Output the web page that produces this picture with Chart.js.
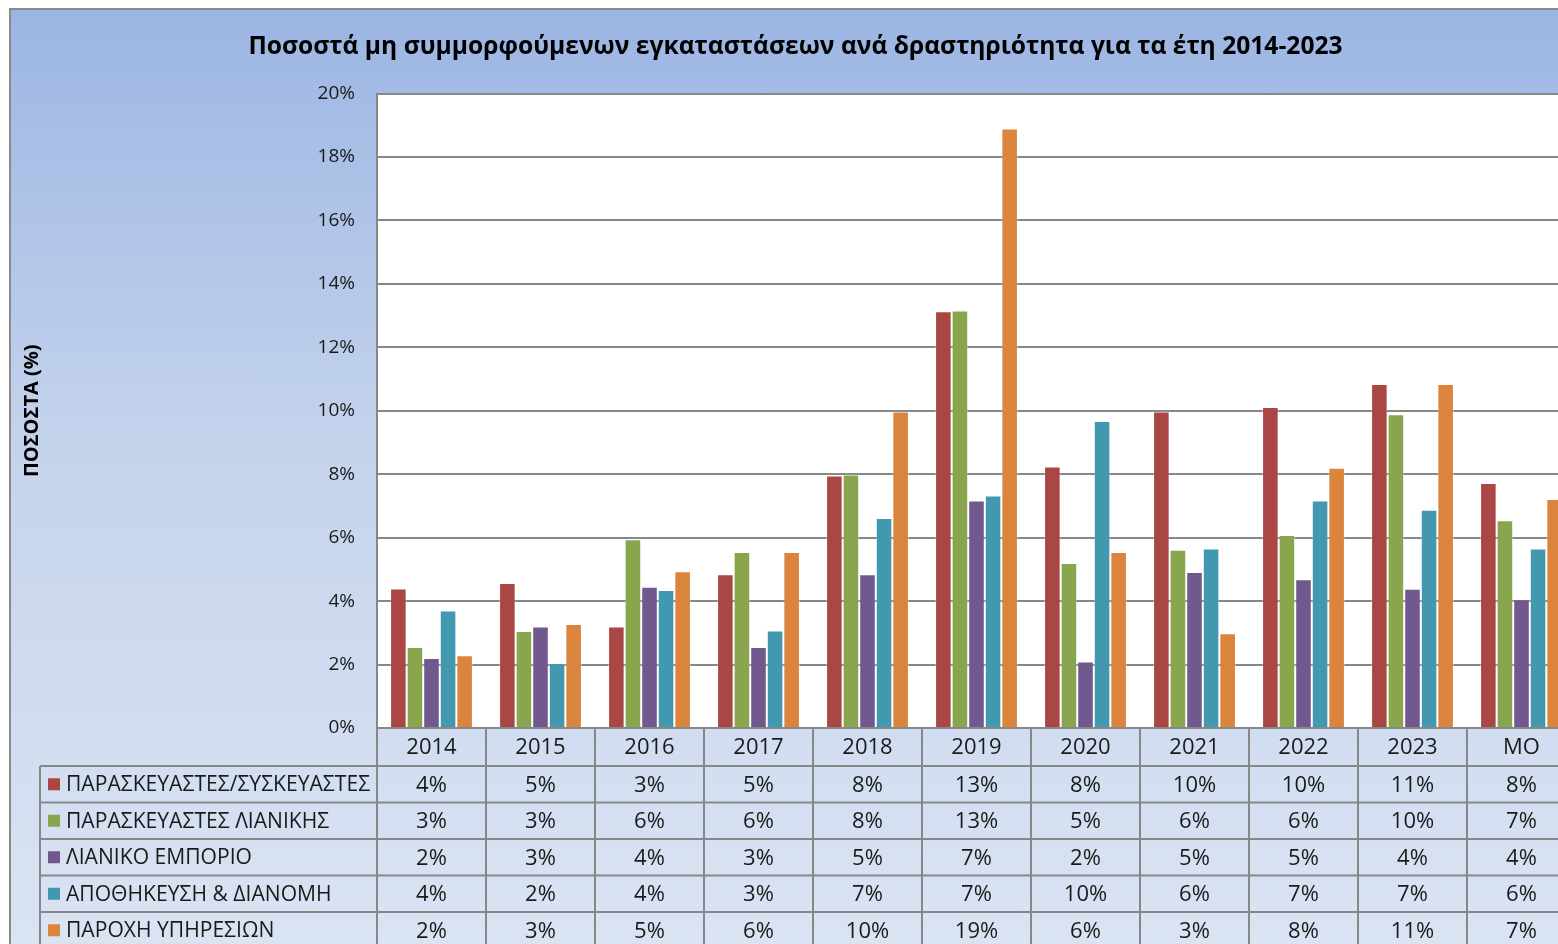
<!DOCTYPE html>
<html>
<head>
<meta charset="utf-8">
<script src="https://cdn.jsdelivr.net/npm/chart.js@4.4.1/dist/chart.umd.min.js"></script>
<style>
html, body { margin: 0; padding: 0; background: #fff; overflow: hidden; }
#wrap {
  position: absolute; left: 9px; top: 8px; width: 1580px; height: 950px;
  border-left: 2px solid #8a8a8a; border-top: 2px solid #8a8a8a;
  background: linear-gradient(to bottom, #9bb5e3 0%, #c4d3ec 45%, #dbe4f3 100%);
}
canvas { display: block; }
</style>
</head>
<body>
<div id="wrap"><canvas id="myChart" width="1570" height="945"></canvas></div>
<script>
// data
const categories = ['2014', '2015', '2016', '2017', '2018', '2019', '2020', '2021', '2022', '2023', 'ΜΟ'];
const seriesNames = ['ΠΑΡΑΣΚΕΥΑΣΤΕΣ/ΣΥΣΚΕΥΑΣΤΕΣ', 'ΠΑΡΑΣΚΕΥΑΣΤΕΣ ΛΙΑΝΙΚΗΣ', 'ΛΙΑΝΙΚΟ ΕΜΠΟΡΙΟ', 'ΑΠΟΘΗΚΕΥΣΗ & ΔΙΑΝΟΜΗ', 'ΠΑΡΟΧΗ ΥΠΗΡΕΣΙΩΝ'];
const manufacturers = [4.40, 4.57, 3.20, 4.85, 7.96, 13.14, 8.24, 9.98, 10.12, 10.84, 7.72];
const retailProducers = [2.55, 3.06, 5.95, 5.55, 7.99, 13.16, 5.20, 5.62, 6.08, 9.89, 6.55];
const retailTrade = [2.21, 3.20, 4.45, 2.55, 4.85, 7.17, 2.10, 4.92, 4.69, 4.39, 4.06];
const storage = [3.70, 2.04, 4.35, 3.07, 6.62, 7.33, 9.68, 5.66, 7.17, 6.88, 5.66];
const services = [2.29, 3.28, 4.94, 5.55, 9.98, 18.90, 5.55, 2.99, 8.20, 10.84, 7.22];
const yTicks = [0, 2, 4, 6, 8, 10, 12, 14, 16, 18, 20];

const colors = ['#aa4643', '#89a54e', '#71588f', '#4198af', '#db843d'];
const seriesValues = [manufacturers, retailProducers, retailTrade, storage, services];

const FONT = "'Open Sans', 'Noto Sans', sans-serif";
const LINE = '#878787';

// white plot area + data table under the axis
const dataTable = {
  id: 'dataTable',
  beforeDraw(chart) {
    const { ctx, chartArea: a } = chart;
    ctx.save();
    ctx.fillStyle = '#ffffff';
    ctx.fillRect(a.left, a.top, a.right - a.left, a.bottom - a.top);
    ctx.restore();
  },
  afterDraw(chart) {
    const { ctx, chartArea: a, scales: { x } } = chart;
    const colW = (x.right - x.left) / categories.length;
    const headH = 38, rowH = 36.5, legLeft = 29;
    const rowsTop = a.bottom + headH;
    const tableBottom = rowsTop + rowH * seriesNames.length;

    ctx.save();
    ctx.strokeStyle = LINE;
    ctx.lineWidth = 2;
    ctx.beginPath();
    // plot left border down through the table
    ctx.moveTo(a.left, a.bottom);
    ctx.lineTo(a.left, tableBottom);
    ctx.moveTo(a.left, a.bottom);
    ctx.lineTo(x.right + 20, a.bottom);
    for (let i = 1; i <= categories.length; i++) {
      const xx = x.left + colW * i;
      ctx.moveTo(xx, a.bottom);
      ctx.lineTo(xx, tableBottom);
    }
    ctx.moveTo(legLeft, rowsTop);
    ctx.lineTo(legLeft, tableBottom);
    for (let r = 0; r <= seriesNames.length; r++) {
      const yy = rowsTop + rowH * r;
      ctx.moveTo(legLeft, yy);
      ctx.lineTo(x.right + 20, yy);
    }
    ctx.stroke();

    ctx.fillStyle = '#1a1a1a';
    ctx.textAlign = 'center';
    ctx.textBaseline = 'middle';
    ctx.font = '22px ' + FONT;
    categories.forEach((c, i) => {
      ctx.fillText(c, x.getPixelForValue(i), a.bottom + headH / 2 + 1);
    });
    seriesValues.forEach((vals, r) => {
      const yy = rowsTop + rowH * r + rowH / 2 + 1;
      vals.forEach((v, i) => {
        ctx.fillText(Math.round(v) + '%', x.getPixelForValue(i), yy);
      });
    });

    // legend column: fit the longest label into the cell
    let size = 22;
    ctx.font = size + 'px ' + FONT;
    const longest = Math.max(...seriesNames.map(n => ctx.measureText(n).width));
    const avail = a.left - 55 - 6;
    if (longest > avail) size = Math.floor(size * avail / longest * 10) / 10;
    ctx.font = size + 'px ' + FONT;
    ctx.textAlign = 'left';
    seriesNames.forEach((n, r) => {
      const yy = rowsTop + rowH * r + rowH / 2;
      ctx.fillStyle = colors[r];
      ctx.fillRect(37, yy - 6, 12, 12);
      ctx.fillStyle = '#1a1a1a';
      ctx.fillText(n, 55, yy + 1);
    });
    ctx.restore();
  }
};

const chartCanvas = document.getElementById('myChart');

const data = {
  labels: categories,
  datasets: seriesNames.map((name, i) => ({
    label: name,
    data: seriesValues[i],
    backgroundColor: colors[i],
    borderColor: 'rgba(255,255,255,0.35)',
    borderWidth: 1,
    categoryPercentage: 0.76,
    barPercentage: 1
  }))
};

const config = {
  type: 'bar',
  data: data,
  options: {
    responsive: false,
    animation: false,
    devicePixelRatio: 1,
    layout: { padding: { left: 4, right: 5, top: 0, bottom: 227 } },
    plugins: {
      legend: { display: false },
      tooltip: { enabled: false },
      title: {
        display: true,
        text: 'Ποσοστά μη συμμορφούμενων εγκαταστάσεων ανά δραστηριότητα για τα έτη 2014-2023',
        color: '#000',
        font: { family: FONT, size: 24.6, weight: 'bold' },
        padding: { top: 22, bottom: 32 }
      }
    },
    scales: {
      x: {
        display: false
      },
      y: {
        min: 0,
        max: 20,
        afterBuildTicks: s => { s.ticks = yTicks.map(v => ({ value: v })); },
        afterFit: s => { s.width = 362; },
        ticks: {
          callback: v => v + '%',
          color: '#1a1a1a',
          font: { family: FONT, size: 19 },
          padding: 22
        },
        grid: { color: LINE, lineWidth: 2, drawTicks: false },
        border: { display: true, color: LINE, width: 2 },
        title: {
          display: true,
          text: 'ΠΟΣΟΣΤΑ (%)',
          color: '#000',
          font: { family: FONT, size: 20, weight: 'bold' },
          padding: { top: 5, bottom: 0 }
        }
      }
    }
  },
  plugins: [dataTable]
};

const myChart = new Chart(chartCanvas, config);
</script>
</body>
</html>
